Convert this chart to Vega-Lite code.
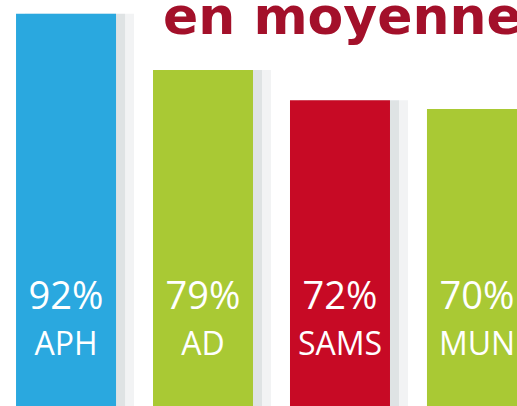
{
  "$schema": "https://vega.github.io/schema/vega-lite/v6.json",
  "width": 543,
  "height": 406,
  "autosize": "none",
  "padding": 0,
  "background": "#ffffff",
  "config": {"view": {"stroke": null}},
  "title": {
    "text": "en moyenne",
    "anchor": "start",
    "frame": "group",
    "dx": 163,
    "offset": -86,
    "color": "#a3102a",
    "font": "DejaVu Sans",
    "fontSize": 52,
    "fontWeight": "bold",
    "baseline": "alphabetic"
  },
  "data": {
    "values": [
      {"groupe": "APH", "taux": 92, "label": "92%", "couleur": "bleu"},
      {"groupe": "AD", "taux": 79, "label": "79%", "couleur": "vert"},
      {"groupe": "SAMS", "taux": 72, "label": "72%", "couleur": "rouge"},
      {"groupe": "MUN", "taux": 70, "label": "70%", "couleur": "vert"}
    ]
  },
  "encoding": {
    "x": {
      "field": "groupe",
      "type": "nominal",
      "sort": null,
      "scale": {"paddingInner": 0.27, "paddingOuter": 0.117},
      "axis": null
    },
    "y": {
      "field": "taux",
      "type": "quantitative",
      "scale": {"domain": [1.3, 95.2], "zero": false, "nice": false},
      "axis": null
    }
  },
  "layer": [
    {
      "mark": {"type": "bar", "clip": true, "color": "#7f8c95", "opacity": 0.1, "xOffset": 18}
    },
    {
      "mark": {"type": "bar", "clip": true, "color": "#7f8c95", "opacity": 0.16, "xOffset": 9}
    },
    {
      "mark": {"type": "bar", "clip": true},
      "encoding": {
        "color": {
          "field": "couleur",
          "type": "nominal",
          "scale": {"domain": ["bleu", "vert", "rouge"], "range": ["#2aa8df", "#a9c934", "#c70a25"]},
          "legend": null
        }
      }
    },
    {
      "mark": {"type": "text", "color": "#ffffff", "font": "Open Sans", "fontSize": 38, "baseline": "middle", "align": "center"},
      "encoding": {
        "y": {"datum": 26.3, "type": "quantitative"},
        "text": {"field": "label"}
      }
    },
    {
      "mark": {"type": "text", "color": "#ffffff", "font": "Open Sans", "fontSize": 32, "baseline": "middle", "align": "center"},
      "encoding": {
        "y": {"datum": 15.4, "type": "quantitative"},
        "text": {"field": "groupe"}
      }
    }
  ]
}
